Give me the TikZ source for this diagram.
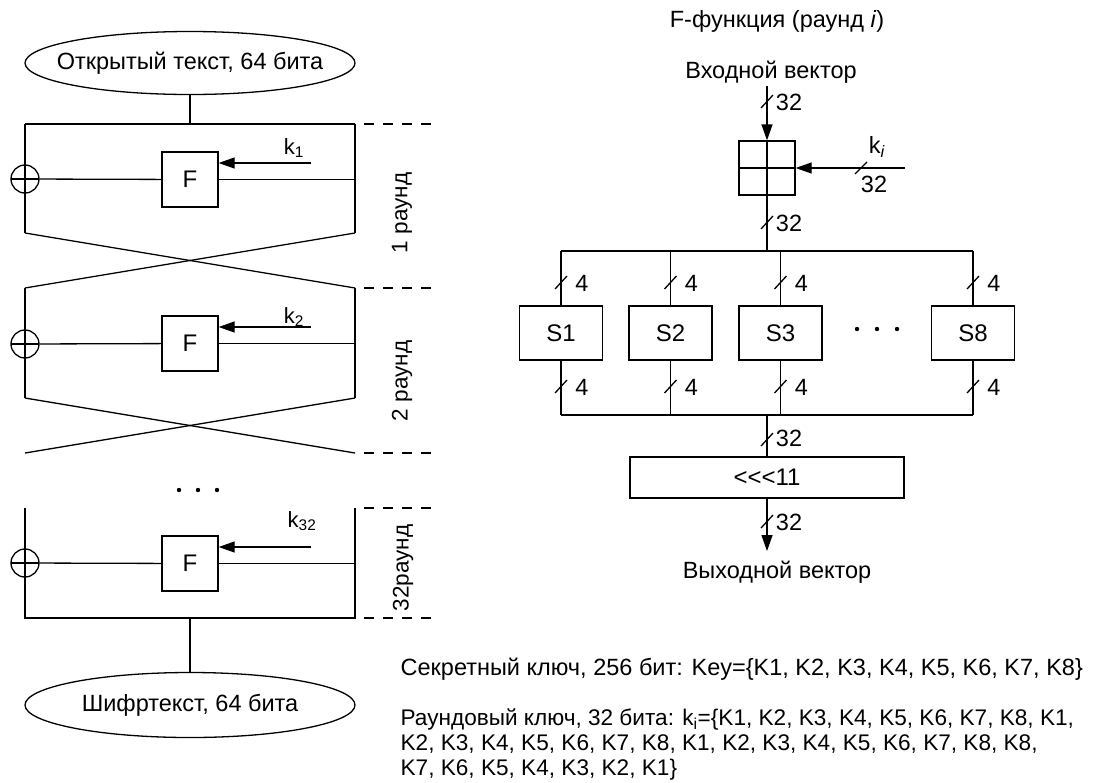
\documentclass[tikz,border=0pt]{standalone}
\usepackage{fontspec}
\setmainfont{Liberation Sans}
\usetikzlibrary{shapes.geometric, positioning, arrows.meta, calc}

\begin{document}
\begin{tikzpicture}[x=1pt, y=-1pt, line width=1.3pt,
          font=\fontsize{23.5}{25.5}\selectfont,
          term/.style={ellipse, draw, minimum width=330pt, minimum height=63pt,
                       inner sep=0pt},
          fbox/.style={rectangle, draw, minimum width=56pt, minimum height=55pt,
                       font=\fontsize{24}{26}\selectfont},
          sbox/.style={rectangle, draw, minimum width=83pt, minimum height=54pt,
                       font=\fontsize{24}{26}\selectfont},
          xor/.style={circle, draw, minimum size=28pt, inner sep=0pt,
                      path picture={
                        \draw (path picture bounding box.west) -- (path picture bounding box.east);
                        \draw (path picture bounding box.north) -- (path picture bounding box.south);}},
          adder/.style={rectangle, draw, minimum width=56pt, minimum height=54pt,
                        path picture={
                          \draw (path picture bounding box.west) -- (path picture bounding box.east);
                          \draw (path picture bounding box.north) -- (path picture bounding box.south);}},
          keylab/.style={font=\fontsize{22}{24}\selectfont, inner sep=0pt},
          rnd/.style={rotate=90, inner sep=0pt, font=\fontsize{22.5}{24}\selectfont},
          arr/.style={-{Triangle[length=16pt, width=11pt]}},
          dsh/.style={dash pattern=on 10pt off 9pt}
        ]
        \useasboundingbox (0,0) rectangle (1094,782);

        % Plain text and cipher text
        \node[term] (pt) at (190,63) {\makebox[0pt]{Открытый текст, 64 бита}};
        \node[term, minimum height=65pt] (ct) at (190,705) {\makebox[0pt]{Шифртекст, 64 бита}};

        % Round 1
        \coordinate (a1) at (25,124);  \coordinate (b1) at (355,124);
        \coordinate (c1) at (25,233);  \coordinate (d1) at (355,233);
        \node[xor]  (x1) at (25,179) {};
        \node[fbox] (f1) at (190,179.5) {F};
        \coordinate (k1in) at (311,163);
        \node[keylab] (k1) at (294,148) {k\textsubscript{1}};
        \node[rnd] (r1) at (402,213) {1 раунд};

        % Round 2
        \coordinate (a2) at (25,288);  \coordinate (b2) at (355,288);
        \coordinate (c2) at (25,398);  \coordinate (d2) at (355,398);
        \coordinate (e2) at (25,453);  \coordinate (g2) at (355,453);
        \node[xor]  (x2) at (25,344) {};
        \node[fbox] (f2) at (190,343.5) {F};
        \coordinate (k2in) at (311,327);
        \node[keylab] (k2) at (294,317) {k\textsubscript{2}};
        \node[rnd] (r2) at (402,381) {2 раунд};

        % Round 32
        \coordinate (a3) at (25,508);  \coordinate (b3) at (355,508);
        \coordinate (c3) at (25,618);  \coordinate (d3) at (355,618);
        \node[xor]  (x3) at (25,563) {};
        \node[fbox] (f3) at (190,563.5) {F};
        \coordinate (k3in) at (311,547);
        \node[keylab] (k3) at (302,521) {k\textsubscript{32}};
        \node[rnd] (r3) at (403,568) {32раунд};

        % Feistel lines
        \draw (pt) -- (pt |- a1);
        \draw (a1) -- (b1);
        \draw (a1) -- (c1);  \draw (b1) -- (d1);
        \draw (x1) -- (f1);  \draw (f1) -- (f1 -| b1);
        \draw[arr] (k1in) -- (k1in -| f1.east);
        \draw (c1) -- (b2);  \draw (d1) -- (a2);

        \draw (a2) -- (c2);  \draw (b2) -- (d2);
        \draw (x2) -- (f2);  \draw (f2) -- (f2 -| b2);
        \draw[arr] (k2in) -- (k2in -| f2.east);
        \draw (c2) -- (g2);  \draw (d2) -- (e2);

        \draw (a3) -- (c3) -- (d3) -- (b3);
        \draw (x3) -- (f3);  \draw (f3) -- (f3 -| b3);
        \draw[arr] (k3in) -- (k3in -| f3.east);
        \draw (ct) -- (ct |- c3);

        % Round borders
        \foreach \p in {b1,b2,g2,b3,d3}
          \draw[dsh] ($(\p)+(9,0)$) -- ++(70,0);
        \foreach \dx in {179,198,217}
          \fill (\dx,490) circle (2.2pt);

        % F-function
        \node (ftitle) at (777,21) {F-функция (раунд \textit{i})};
        \node (vin) at (771,72) {Входной вектор};
        \node[adder] (add) at (767,168) {};
        \coordinate (ain) at (767,86);
        \draw[arr] (ain) -- (add.north);
        \draw (761,108) -- ++(12,-13);
        \node (w0) at (789,102) {32};

        \coordinate (kin) at (905,168);
        \draw[arr] (kin) -- (add.east);
        \draw (855,174) -- ++(12,-12);
        \node (ki) at (877,147) {k\textsubscript{\textit{i}}};
        \node (wk) at (874,184) {32};

        % S-boxes
        \node[sbox] (s1) at (561,333) {S1};
        \node[sbox] (s2) at (670.5,333) {S2};
        \node[sbox] (s3) at (780.5,333) {S3};
        \node[sbox] (s8) at (973,333) {S8};
        \foreach \dx in {857,877,897}
          \fill (\dx,329) circle (2.2pt);

        \coordinate (bt) at (767,251);
        \coordinate (bb) at (767,415);
        \draw (add) -- (bt);
        \draw (761,229) -- ++(12,-13);
        \node (w1) at (789,223) {32};
        \draw (s1.north |- bt) -- (s8.north |- bt);
        \draw (s1.south |- bb) -- (s8.south |- bb);
        \foreach \s in {s1,s2,s3,s8} {
          \draw (\s.north |- bt) -- (\s.north);
          \draw (\s.south) -- (\s.south |- bb);
          \draw ($(\s.north |- 0,289)+(-6,0)$) -- ++(12,-13);
          \draw ($(\s.south |- 0,393)+(-6,0)$) -- ++(12,-13);
          \node (\s top) at ($(\s.north |- 0,283)+(21,0)$) {4};
          \node (\s bot) at ($(\s.south |- 0,387)+(21,0)$) {4};
        }

        % Rotation
        \node[sbox, minimum width=274pt, minimum height=41pt] (rot) at (767,477.5) {{<}{<}{<}11};
        \draw (bb) -- (rot);
        \draw (761,446) -- ++(12,-13);
        \node (w2) at (789,438) {32};
        \node (vout) at (777,572) {Выходной вектор};
        \coordinate (aout) at (767,551);
        \draw[arr] (rot) -- (aout);
        \draw (761,528) -- ++(12,-13);
        \node (w3) at (789,522) {32};

        % Keys
        \node[anchor=west, inner sep=0pt] (key) at (400,669)
              {Секретный ключ, 256 бит: Key=\{K1, K2, K3, K4, K5, K6, K7, K8\}};
        \node[anchor=north west, align=left, inner sep=0pt,
              font=\fontsize{22.6}{25}\selectfont] (rkey) at (400,708)
              {Раундовый ключ, 32 бита: k\textsubscript{i}=\{K1, K2, K3, K4, K5, K6, K7, K8, K1,\\
               K2, K3, K4, K5, K6, K7, K8, K1, K2, K3, K4, K5, K6, K7, K8, K8,\\
               K7, K6, K5, K4, K3, K2, K1\}};
      \end{tikzpicture}
\end{document}
